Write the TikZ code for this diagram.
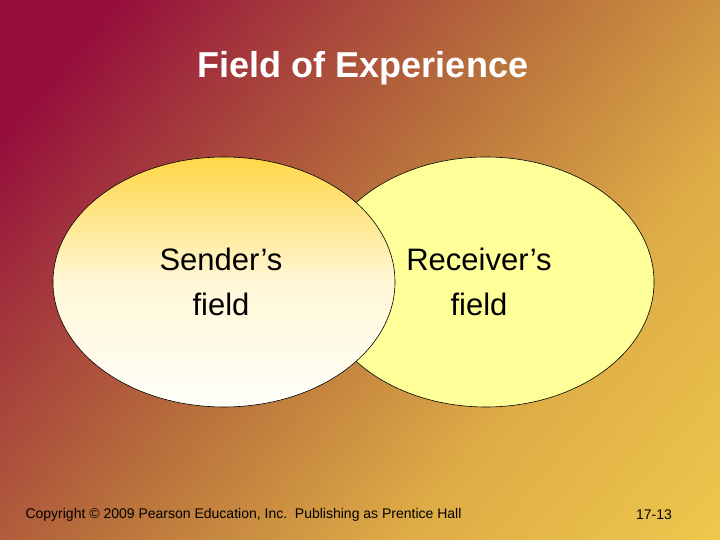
\documentclass[tikz,border=0pt]{standalone}
\usepackage{fontspec}
\setmainfont{Liberation Sans}
\definecolor{c1}{RGB}{150,15,60}
\definecolor{c1b}{RGB}{165,60,60}
\definecolor{c2}{RGB}{185,115,60}
\definecolor{c3}{RGB}{222,172,70}
\definecolor{c4}{RGB}{250,220,80}
\definecolor{rfill}{RGB}{255,255,153}
\definecolor{ltop}{RGB}{255,215,70}
\definecolor{lbot}{RGB}{255,255,250}
\pgfdeclarehorizontalshading{bgshade}{100bp}{color(0bp)=(c1); color(22bp)=(c1); color(33bp)=(c1b); color(48bp)=(c2); color(66bp)=(c3); color(100bp)=(c4)}
\tikzset{lbl/.style={font=\fontsize{31}{45}\selectfont, align=center, text=black},
 fld/.style={draw=black, line width=0.6pt}}
\begin{document}
\begin{tikzpicture}[x=1pt,y=1pt]
\useasboundingbox (0,0) rectangle (720,540);
\shade[shading=bgshade, shading angle=-40] (0,0) rectangle (720,540);
\node[font=\bfseries\fontsize{36}{40}\selectfont, text=white] (title) at (363,472) {Field of Experience};
\draw[fld, fill=rfill] (486,258) ellipse [x radius=168, y radius=125];
\shade[top color=ltop, bottom color=lbot, middle color=ltop!20!lbot] (224,258) ellipse [x radius=171, y radius=125];
\draw[fld] (224,258) ellipse [x radius=171, y radius=125];
\node[lbl] (s) at (221,258) {Sender’s\\field};
\node[lbl] (r) at (479,258) {Receiver’s\\field};
\node[font=\fontsize{14}{16}\selectfont, anchor=west] (c) at (22,25) {Copyright © 2009 Pearson Education, Inc.\ \ Publishing as Prentice Hall};
\node[font=\fontsize{14}{16}\selectfont] (p) at (654,25) {17-13};
\end{tikzpicture}
\end{document}
